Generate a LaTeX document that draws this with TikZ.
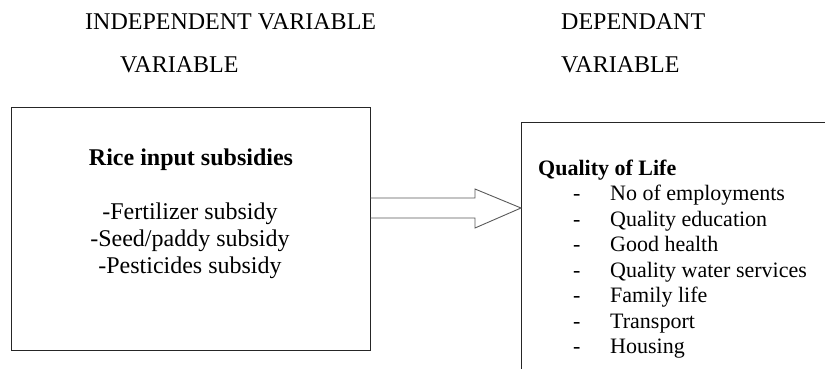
\documentclass[tikz,border=0pt]{standalone}
\usepackage{fontspec}
\setmainfont{Liberation Serif}
\usetikzlibrary{positioning}
\tikzset{varbox/.style = {draw = black!85, line width = 0.9pt, inner sep = 0pt},
	bigtext/.style = {inner sep = 0pt, font = \fontsize{24}{27}\selectfont},
	bigbold/.style = {inner sep = 0pt, font = \bfseries\fontsize{24}{27}\selectfont},
	smalltext/.style = {inner sep = 0pt, font = \fontsize{22}{25}\selectfont},
	smallbold/.style = {inner sep = 0pt, font = \bfseries\fontsize{22}{25}\selectfont},
	blockarrow/.style = {draw = black!65, line width = 0.9pt}}

\begin{document}
\begin{tikzpicture}[x = 1pt, y = -1pt]
		\clip (0,0) rectangle (825,369);
		% headings
		\node (indhead) [bigtext, anchor = base west] at (85,30) {INDEPENDENT VARIABLE};
		\node (indvar) [bigtext, anchor = base west] at (120,73) {VARIABLE};
		\node (dephead) [bigtext, anchor = base west] at (561,30) {DEPENDANT};
		\node (depvar) [bigtext, anchor = base west] at (561,73) {VARIABLE};
		% boxes
		\node (ind) [varbox, minimum width = 359pt, minimum height = 243pt] at (190.5,228.5) {};
		\node (dep) [varbox, anchor = north west, minimum width = 330pt, minimum height = 270pt] at (521,122) {};
		% left box text
		\node (indtitle) [bigbold, anchor = base] at (191,165) {Rice input subsidies};
		\node (indlist) [bigtext, anchor = base, align = center] at (190,273)
		{-Fertilizer subsidy\\-Seed/paddy subsidy\\-Pesticides subsidy};
		% right box text
		\node (deptitle) [smallbold, anchor = base west] at (538,175) {Quality of Life};
		\foreach \item [count = \i] in {No of employments, Quality education, Good health,
			Quality water services, Family life, Transport, Housing}
		{
			\node (dash\i) [smalltext, anchor = base west] at (573,175+25.5*\i) {-};
			\node (item\i) [smalltext, anchor = base west] at (610,175+25.5*\i) {\item};
		}
		% arrow
		\coordinate (shafttop) at (475,198);
		\coordinate (shaftbot) at (475,218);
		\coordinate (headtop) at (475,189);
		\coordinate (headbot) at (475,228);
		\coordinate (tip) at (0,208);
		\draw[blockarrow] (ind.east |- shafttop) -- (shafttop) -- (headtop) -- (dep.west |- tip)
		-- (headbot) -- (shaftbot) -- (ind.east |- shaftbot);
		\end{tikzpicture}
\end{document}
